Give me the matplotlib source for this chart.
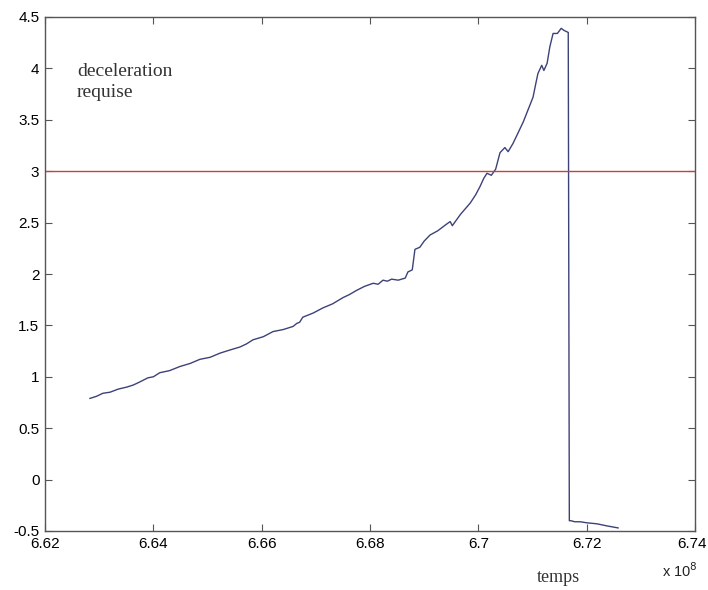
import matplotlib.pyplot as plt
import matplotlib.transforms as mtransforms
from matplotlib.ticker import FuncFormatter

# temps (x 1e8) and deceleration values
temps = [6.6283, 6.6295, 6.6307, 6.6320, 6.6335, 6.6351, 6.6363, 6.6375, 6.6390, 6.6400,
         6.6412, 6.6430, 6.6449, 6.6468, 6.6486, 6.6505, 6.6523, 6.6541, 6.6560, 6.6572,
         6.6584, 6.6603, 6.6621, 6.6640, 6.6658, 6.6665, 6.6670, 6.6676, 6.6695, 6.6713,
         6.6731, 6.6750, 6.6762, 6.6775, 6.6790, 6.6806, 6.6815, 6.6824, 6.6832, 6.6840,
         6.6852, 6.6865, 6.6870, 6.6878, 6.6883, 6.6892, 6.6900, 6.6911, 6.6925, 6.6940,
         6.6948, 6.6952, 6.6967, 6.6985, 6.6995, 6.7003, 6.7010, 6.7016, 6.7024, 6.7032,
         6.7040, 6.7049, 6.7055, 6.7064, 6.7074, 6.7083, 6.7092, 6.7101, 6.7106, 6.7110,
         6.7117, 6.7121, 6.7127, 6.7132, 6.7138, 6.7146, 6.7153, 6.7158, 6.7166, 6.7168,
         6.7171, 6.7178, 6.7188, 6.7200, 6.7219, 6.7237, 6.7258]
decel = [0.79, 0.81, 0.84, 0.85, 0.88, 0.90, 0.92, 0.95, 0.99, 1.00,
         1.04, 1.06, 1.10, 1.13, 1.17, 1.19, 1.23, 1.26, 1.29, 1.32,
         1.36, 1.39, 1.44, 1.46, 1.49, 1.52, 1.53, 1.58, 1.62, 1.67,
         1.71, 1.77, 1.80, 1.84, 1.88, 1.91, 1.90, 1.94, 1.93, 1.95,
         1.94, 1.96, 2.02, 2.04, 2.24, 2.26, 2.32, 2.38, 2.42, 2.48,
         2.51, 2.47, 2.58, 2.69, 2.77, 2.85, 2.93, 2.98, 2.96, 3.02,
         3.18, 3.23, 3.19, 3.27, 3.38, 3.48, 3.60, 3.72, 3.85, 3.95,
         4.03, 3.98, 4.05, 4.21, 4.34, 4.34, 4.39, 4.37, 4.35, -0.40,
         -0.40, -0.41, -0.41, -0.42, -0.43, -0.45, -0.47]
seuil = 3.0

xticks = [6.62, 6.64, 6.66, 6.68, 6.70, 6.72, 6.74]
yticks = [-0.5, 0, 0.5, 1, 1.5, 2, 2.5, 3, 3.5, 4, 4.5]

plt.rcParams['font.family'] = ['Liberation Sans', 'DejaVu Sans']

fig = plt.figure(figsize=(7.08, 5.90), dpi=100)
ax = fig.add_axes([45 / 708, 59 / 590, 650 / 708, 514 / 590])

ax.plot(temps, decel, color='#3c4278', lw=1.0)
ax.axhline(seuil, color='#c84040', lw=1.0)

ax.set_xlim(6.62, 6.74)
ax.set_ylim(-0.5, 4.5)
ax.set_xticks(xticks)
ax.set_yticks(yticks)
fmt = FuncFormatter(lambda v, p: '%g' % round(v, 3))
ax.xaxis.set_major_formatter(fmt)
ax.yaxis.set_major_formatter(fmt)
ax.tick_params(direction='in', length=5, width=0.8, color='#555555',
               labelsize=11, top=True, right=True, pad=4)
for s in ax.spines.values():
    s.set_color('#555555')
    s.set_linewidth(1.0)

# last x label sits a bit left, like the original
last = ax.get_xticklabels()[-1]
last.set_transform(last.get_transform() +
                   mtransforms.ScaledTranslation(-3 / 100, 0, fig.dpi_scale_trans))

serif = ['Liberation Serif', 'DejaVu Serif']
fig.text(77 / 708, 1 - 76 / 590, 'deceleration', family=serif, fontsize=14,
         color='#333333', va='baseline')
fig.text(77 / 708, 1 - 97 / 590, 'requise', family=serif, fontsize=14,
         color='#333333', va='baseline')
fig.text(558 / 708, 1 - 578 / 590, 'temps', family=serif, fontsize=13,
         ha='center', va='center', color='#333333')
fig.text(662 / 708, 1 - 571 / 590, 'x 10$^{8}$', fontsize=10.5,
         ha='left', va='center', color='#222222')

fig.savefig('out.png', dpi=100)
